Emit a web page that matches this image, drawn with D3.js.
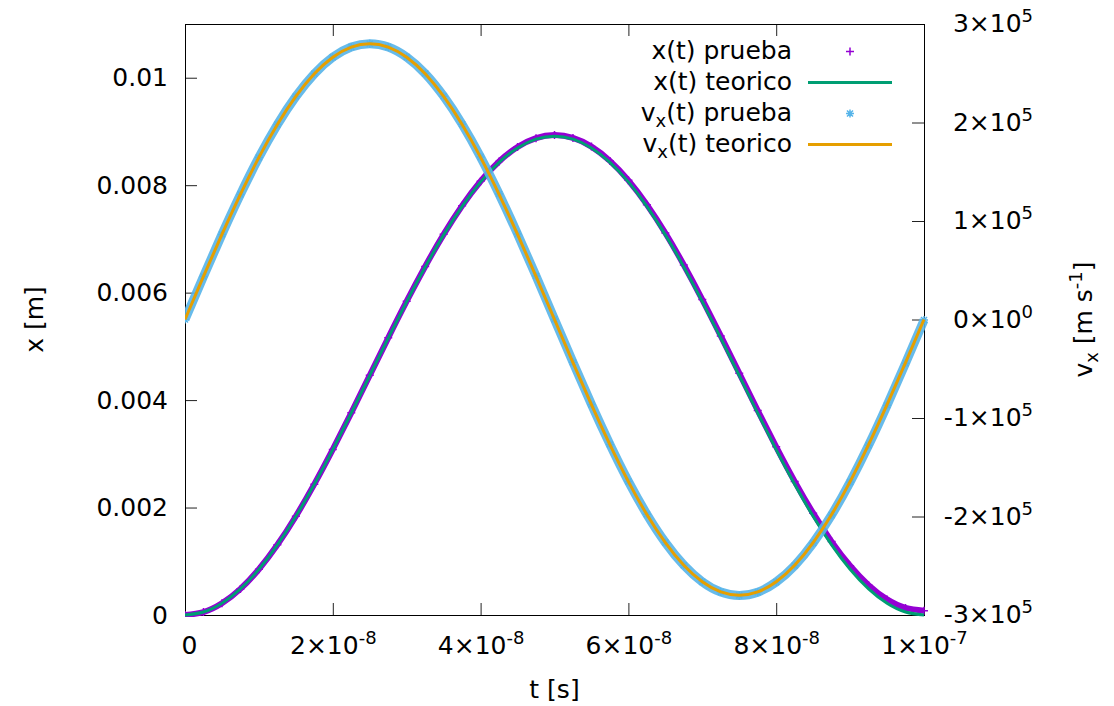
<!DOCTYPE html>
<html><head><meta charset="utf-8">
<script src="https://cdn.jsdelivr.net/npm/d3@7"></script>
<style>body{margin:0;background:#fff} text{font-family:"DejaVu Sans",sans-serif}</style>
</head><body><svg id="c" width="1114" height="706"></svg>
<script>
// ---- data ----
const time = [0, 2.5e-9, 5e-9, 7.5e-9, 1e-8, 1.25e-8, 1.5e-8, 1.75e-8, 2e-8, 2.25e-8,
  2.5e-8, 2.75e-8, 3e-8, 3.25e-8, 3.5e-8, 3.75e-8, 4e-8, 4.25e-8, 4.5e-8, 4.75e-8,
  5e-8, 5.25e-8, 5.5e-8, 5.75e-8, 6e-8, 6.25e-8, 6.5e-8, 6.75e-8, 7e-8, 7.25e-8,
  7.5e-8, 7.75e-8, 8e-8, 8.25e-8, 8.5e-8, 8.75e-8, 9e-8, 9.25e-8, 9.5e-8, 9.75e-8, 1e-7];
const xPrueba = [0, 0.000055, 0.000218, 0.000486, 0.000852, 0.001306, 0.001839, 0.002435, 0.003082, 0.003763,
  0.004461, 0.005159, 0.005840, 0.006487, 0.007085, 0.007618, 0.008074, 0.008440, 0.008710, 0.008875,
  0.008932, 0.008879, 0.008718, 0.008452, 0.008090, 0.007638, 0.007109, 0.006515, 0.005872, 0.005195,
  0.004501, 0.003807, 0.003130, 0.002487, 0.001895, 0.001366, 0.000916, 0.000554, 0.000290, 0.000131, 0.000080];
const xTeorico = [0, 0.000055, 0.000218, 0.000486, 0.000851, 0.001305, 0.001837, 0.002433, 0.003079, 0.003759,
  0.004456, 0.005153, 0.005833, 0.006479, 0.007075, 0.007607, 0.008061, 0.008426, 0.008694, 0.008857,
  0.008912, 0.008857, 0.008694, 0.008426, 0.008061, 0.007607, 0.007075, 0.006479, 0.005833, 0.005153,
  0.004456, 0.003759, 0.003079, 0.002433, 0.001837, 0.001305, 0.000851, 0.000486, 0.000218, 0.000055, 0];
const vPrueba = [0, 43700, 86400, 127000, 164500, 197900, 226400, 249400, 266300, 276600,
  280000, 276700, 266400, 249700, 226700, 198200, 164900, 127400, 86800, 44100,
  300, -43500, -86200, -126800, -164400, -197800, -226400, -249400, -266300, -276700,
  -280100, -276800, -266500, -249800, -226900, -198400, -165100, -127700, -87100, -44400, -600];
const vTeorico = [0, 43800, 86500, 127100, 164600, 198000, 226500, 249500, 266300, 276600,
  280000, 276600, 266300, 249500, 226500, 198000, 164600, 127100, 86500, 43800,
  0, -43800, -86500, -127100, -164600, -198000, -226500, -249500, -266300, -276600,
  -280000, -276600, -266300, -249500, -226500, -198000, -164600, -127100, -86500, -43800, 0];

const tTicks = [0, 2e-8, 4e-8, 6e-8, 8e-8, 1e-7];
const tTickLabels = [["0", ""], ["2×10", "-8"], ["4×10", "-8"], ["6×10", "-8"], ["8×10", "-8"], ["1×10", "-7"]];
const xTicks = [0, 0.002, 0.004, 0.006, 0.008, 0.01];
const xTickLabels = ["0", "0.002", "0.004", "0.006", "0.008", "0.01"];
const vTicks = [-3e5, -2e5, -1e5, 0, 1e5, 2e5, 3e5];
const vTickLabels = [["-3×10", "5"], ["-2×10", "5"], ["-1×10", "5"], ["0×10", "0"], ["1×10", "5"], ["2×10", "5"], ["3×10", "5"]];
const legendNames = [["x", "", "(t) prueba"], ["x", "", "(t) teorico"], ["v", "x", "(t) prueba"], ["v", "x", "(t) teorico"]];

// ---- layout ----
const L = 185, R = 924, T = 24, B = 615;
const FS = 25, SFS = 18;
const colors = {xp: "#9400d3", xt: "#009e73", vp: "#56b4e9", vt: "#e69f00"};

const svg = d3.select("#c");
const xS = d3.scaleLinear().domain([0, 1e-7]).range([L, R]);
const yL = d3.scaleLinear().domain([0, 0.011]).range([B, T]);
const yR = d3.scaleLinear().domain([-3e5, 3e5]).range([B, T]);

svg.append("defs").append("clipPath").attr("id", "clip")
  .append("rect").attr("x", L).attr("y", T - 2).attr("width", R - L + 4).attr("height", B - T + 4);

// axes
function styleAxis(g) {
  g.select(".domain").remove();
  g.attr("font-size", FS).attr("font-family", "DejaVu Sans, sans-serif");
  g.selectAll(".tick line").attr("stroke", "#222").attr("stroke-width", 1);
}
const gB = svg.append("g").attr("transform", `translate(0,${B})`)
  .call(d3.axisBottom(xS).tickValues(tTicks).tickSizeInner(-12).tickSizeOuter(0).tickPadding(39).tickFormat(() => ""))
  .call(styleAxis);
gB.selectAll(".tick text").attr("dy", 0).each(function (d, i) {
  const t = d3.select(this);
  if (i === 0) t.attr("x", 4);
  t.append("tspan").text(tTickLabels[i][0]);
  if (tTickLabels[i][1]) t.append("tspan").attr("font-size", SFS).attr("dy", -10).text(tTickLabels[i][1]);
});
svg.append("g").attr("transform", `translate(0,${T})`)
  .call(d3.axisTop(xS).tickValues(tTicks).tickSizeInner(-12).tickSizeOuter(0).tickFormat(() => ""))
  .call(styleAxis);
svg.append("g").attr("transform", `translate(${L},0)`)
  .call(d3.axisLeft(yL).tickValues(xTicks).tickSizeInner(-12).tickSizeOuter(0).tickPadding(17).tickFormat((d, i) => xTickLabels[i]))
  .call(styleAxis);
const gR = svg.append("g").attr("transform", `translate(${R},0)`)
  .call(d3.axisRight(yR).tickValues(vTicks).tickSizeInner(-12).tickSizeOuter(0).tickPadding(109).tickFormat(() => ""))
  .call(styleAxis);
gR.selectAll(".tick text").attr("text-anchor", "end").attr("dy", "0.3em").each(function (d, i) {
  const t = d3.select(this);
  t.append("tspan").text(vTickLabels[i][0]);
  t.append("tspan").attr("font-size", SFS).attr("dy", -10).text(vTickLabels[i][1]);
});

// plot border
svg.append("rect").attr("x", L).attr("y", T).attr("width", R - L).attr("height", B - T)
  .attr("fill", "none").attr("stroke", "#000").attr("stroke-width", 1).attr("shape-rendering", "crispEdges");

// series
const plot = svg.append("g").attr("clip-path", "url(#clip)");
const lineX = d3.line().x((d, i) => xS(time[i])).y(d => yL(d)).curve(d3.curveNatural);
const lineV = d3.line().x((d, i) => xS(time[i])).y(d => yR(d)).curve(d3.curveNatural);
const plusPath = "M-4,0H4M0,-4V4";
const starPath = "M-4,0H4M0,-4V4M-3,-3L3,3M-3,3L3,-3";

plot.append("path").datum(xPrueba).attr("d", lineX).attr("fill", "none")
  .attr("stroke", colors.xp).attr("stroke-width", 6);
plot.selectAll(".mxp").data(xPrueba).join("path").attr("class", "mxp")
  .attr("transform", (d, i) => `translate(${xS(time[i])},${yL(d)})`)
  .attr("d", plusPath).attr("stroke", colors.xp).attr("stroke-width", 1.5).attr("fill", "none");
plot.append("path").datum(xTeorico).attr("d", lineX).attr("fill", "none")
  .attr("stroke", colors.xt).attr("stroke-width", 3);

plot.append("path").datum(vPrueba).attr("d", lineV).attr("fill", "none")
  .attr("stroke", colors.vp).attr("stroke-width", 9).attr("stroke-opacity", 0.9);
plot.selectAll(".mvp").data(vPrueba).join("path").attr("class", "mvp")
  .attr("transform", (d, i) => `translate(${xS(time[i])},${yR(d)})`)
  .attr("d", starPath).attr("stroke", colors.vp).attr("stroke-width", 1.5).attr("fill", "none");
plot.append("path").datum(vTeorico).attr("d", lineV).attr("fill", "none")
  .attr("stroke", colors.vt).attr("stroke-width", 3);

// legend
const lg = svg.append("g").attr("font-size", FS);
const rowY = [51.5, 82.5, 113.5, 144.5];
legendNames.forEach((n, i) => {
  const t = lg.append("text").attr("x", 792).attr("y", rowY[i] + 7).attr("text-anchor", "end");
  t.append("tspan").text(n[0]);
  if (n[1]) {
    t.append("tspan").attr("font-size", SFS).attr("dy", 6).text(n[1]);
    t.append("tspan").attr("dy", -6).text(n[2]);
  } else t.append("tspan").text(n[2]);
});
lg.append("path").attr("transform", `translate(850,${rowY[0]})`).attr("d", plusPath)
  .attr("stroke", colors.xp).attr("stroke-width", 1.5).attr("fill", "none");
lg.append("line").attr("x1", 808).attr("x2", 892).attr("y1", rowY[1]).attr("y2", rowY[1])
  .attr("stroke", colors.xt).attr("stroke-width", 3);
lg.append("path").attr("transform", `translate(850,${rowY[2]})`).attr("d", starPath)
  .attr("stroke", colors.vp).attr("stroke-width", 1.5).attr("fill", "none");
lg.append("line").attr("x1", 808).attr("x2", 892).attr("y1", rowY[3]).attr("y2", rowY[3])
  .attr("stroke", colors.vt).attr("stroke-width", 3);

// axis titles
svg.append("text").attr("x", (L + R) / 2).attr("y", 698).attr("text-anchor", "middle")
  .attr("font-size", FS).text("t [s]");
svg.append("text").attr("transform", `translate(43,${(T + B) / 2}) rotate(-90)`).attr("text-anchor", "middle")
  .attr("font-size", FS).text("x [m]");
const vt = svg.append("text").attr("transform", `translate(1092,${(T + B) / 2}) rotate(-90)`)
  .attr("text-anchor", "middle").attr("font-size", FS);
vt.append("tspan").text("v");
vt.append("tspan").attr("font-size", SFS).attr("dy", 6).text("x");
vt.append("tspan").attr("dy", -6).text(" [m s");
vt.append("tspan").attr("font-size", SFS).attr("dy", -10).text("-1");
vt.append("tspan").attr("dy", 10).text("]");
</script></body></html>
